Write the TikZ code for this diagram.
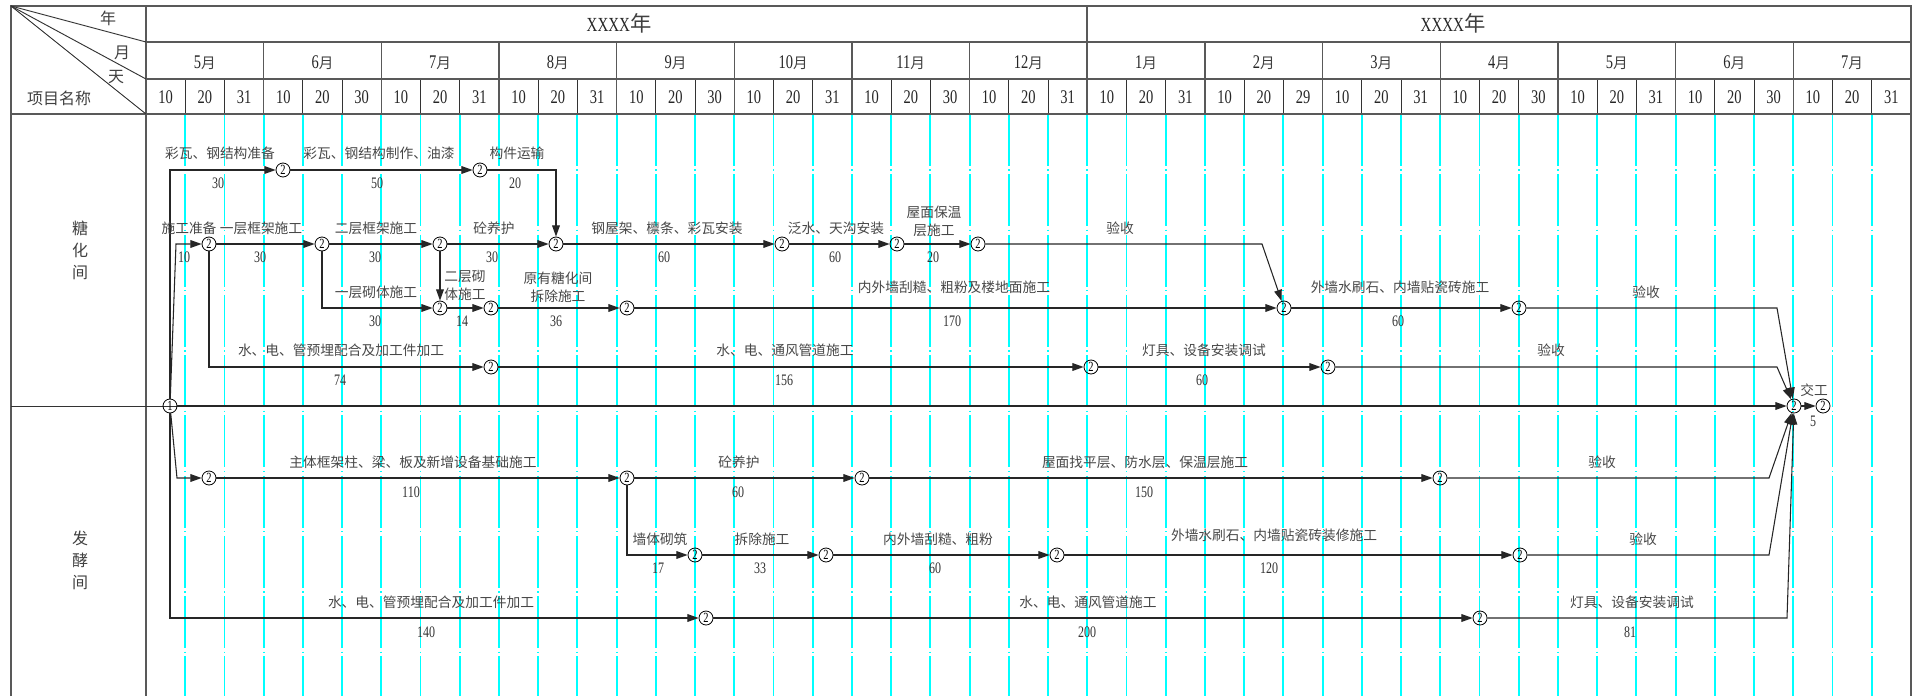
\documentclass[tikz,border=0pt]{standalone}
\usepackage{fontspec}
\setmainfont{Liberation Serif}[FakeStretch=0.75]
\newfontfamily\cjk{Noto Sans CJK SC}
\usepackage{tikz}
\usetikzlibrary{arrows.meta}
\definecolor{guidecyan}{RGB}{0,255,255}
\newcommand{\sz}[1]{\fontsize{#1}{#1}\selectfont}

\begin{document}
\begin{tikzpicture}[x=0.75pt,y=-0.75pt,
    frame/.style={black!65,line width=1.1pt},
    sub/.style={black!80,line width=0.7pt},
    guide/.style={guidecyan,line width=1.4pt,dash pattern=on 39pt off 2.6pt on 1pt off 2.6pt},
    ev/.style={circle,draw,black,line width=0.6pt,inner sep=0pt,minimum size=10.5pt,font=\sz{10.5}},
    arr/.style={-{Triangle[length=8.4pt,width=5.8pt]},black!85,line width=0.8pt},
    lab/.style={font=\cjk\fontsize{10.3}{13.5}\selectfont,text=black!72,align=center,inner sep=0pt},
    dur/.style={font=\sz{12},text=black!80,inner sep=0pt},
    hd/.style={font=\sz{14.5},text=black!85,inner sep=0pt},
    hz/.style={font=\cjk\sz{12},text=black!75}]
        \useasboundingbox (0,0) rectangle (1919,696);
        % time grid
        \foreach \j in {1,...,44}{\draw[guide] ({146+39.22*\j},114) -- ({146+39.22*\j},696);}
        \foreach \j in {1,...,44}{\draw[sub] ({146+39.22*\j},79) -- ({146+39.22*\j},114);}
        \foreach \k in {1,...,14}{\draw[frame] ({146+117.66*\k},42) -- ({146+117.66*\k},114);}
        \draw[frame] (11,696) -- (11,6) -- (1911,6) -- (1911,696);
        \draw[frame] (146,6) -- (146,696);
        \draw[frame] (146,42) -- (1911,42);
        \draw[frame] (146,79) -- (1911,79);
        \draw[frame] (11,114) -- (1911,114);
        \draw[frame] (1087,6) -- (1087,114);
        \draw[sub] (11,6) -- (146,42);
        \draw[sub] (11,6) -- (146,79);
        \draw[sub] (11,6) -- (146,114);
        \draw[sub] (11,406) -- (218,406);
        % header
        \node[hz] (nian) at (108,18) {年};
        \node[hz] (yue) at (122,53) {月};
        \node[hz] (tian) at (116,77) {天};
        \node[hz] (xmmc) at (59,98) {项目名称};
        \node[font=\sz{15},text=black!85] (yr1) at (619,23) {XXXX{\cjk\sz{16}\color{black!75}年}};
        \node[font=\sz{15},text=black!85] (yr2) at (1453,23) {XXXX{\cjk\sz{16}\color{black!75}年}};
        \foreach \m/\e [count=\i from 0] in {5/31,6/30,7/31,8/31,9/30,10/31,11/30,12/31,1/31,2/29,3/31,4/30,5/31,6/30,7/31}{
            \node[hd] (m\i) at ({146+39.22*(3*\i+1.5)},63) {\m{\cjk\sz{11}\color{black!75}月}};
            \node[hd] (da\i) at ({146+39.22*(3*\i+0.5)},97) {10};
            \node[hd] (db\i) at ({146+39.22*(3*\i+1.5)},97) {20};
            \node[hd] (dc\i) at ({146+39.22*(3*\i+2.5)},97) {\e};
        }
        \node[hz,font=\cjk\fontsize{12}{16.5}\selectfont,align=center] (thj) at (80,250) {糖\\化\\间};
        \node[hz,font=\cjk\fontsize{12}{16.5}\selectfont,align=center] (fxj) at (80,560) {发\\酵\\间};
        % events
        \node[ev] (N1) at (170,406) {1};
        \node[ev] (A1) at (283,170) {2};
        \node[ev] (A2) at (480,170) {2};
        \node[ev] (B1) at (209,244) {2};
        \node[ev] (B2) at (322,244) {2};
        \node[ev] (B3) at (440,244) {2};
        \node[ev] (B4) at (556,244) {2};
        \node[ev] (B5) at (782,244) {2};
        \node[ev] (B6) at (897,244) {2};
        \node[ev] (B7) at (978,244) {2};
        \node[ev] (C1) at (440,308) {2};
        \node[ev] (C2) at (491,308) {2};
        \node[ev] (C3) at (627,308) {2};
        \node[ev] (C4) at (1284,308) {2};
        \node[ev] (C5) at (1519,308) {2};
        \node[ev] (D1) at (491,367) {2};
        \node[ev] (D2) at (1091,367) {2};
        \node[ev] (D3) at (1328,367) {2};
        \node[ev] (F1) at (1794,406) {2};
        \node[ev] (F2) at (1823,406) {2};
        \node[ev] (G1) at (209,478) {2};
        \node[ev] (G2) at (627,478) {2};
        \node[ev] (G3) at (862,478) {2};
        \node[ev] (G4) at (1440,478) {2};
        \node[ev] (H1) at (695,555) {2};
        \node[ev] (H2) at (826,555) {2};
        \node[ev] (H3) at (1057,555) {2};
        \node[ev] (H4) at (1520,555) {2};
        \node[ev] (I1) at (706,618) {2};
        \node[ev] (I2) at (1480,618) {2};
        \coordinate (b0) at (176,244);
        \coordinate (b8) at (1262,244);
        \coordinate (c6) at (1777,308);
        \coordinate (d4) at (1777,367);
        \coordinate (g0) at (177,478);
        \coordinate (g5) at (1769,478);
        \coordinate (h5) at (1769,555);
        \coordinate (i3) at (1787,618);
        % arrows
        \draw[arr] (N1) |- (A1);
        \draw[arr] (A1) -- (A2);
        \draw[arr] (A2) -| (B4);
        \draw[arr] (N1) -- (b0) -- (B1);
        \draw[arr] (B1) -- (B2);
        \draw[arr] (B2) -- (B3);
        \draw[arr] (B3) -- (B4);
        \draw[arr] (B4) -- (B5);
        \draw[arr] (B5) -- (B6);
        \draw[arr] (B6) -- (B7);
        \draw[arr] (B7) -- (b8) -- (C4);
        \draw[arr] (B2) |- (C1);
        \draw[arr] (B3) -- (C1);
        \draw[arr] (C1) -- (C2);
        \draw[arr] (C2) -- (C3);
        \draw[arr] (C3) -- (C4);
        \draw[arr] (C4) -- (C5);
        \draw[arr] (C5) -- (c6) -- (F1);
        \draw[arr] (B1) |- (D1);
        \draw[arr] (D1) -- (D2);
        \draw[arr] (D2) -- (D3);
        \draw[arr] (D3) -- (d4) -- (F1);
        \draw[arr] (N1) -- (F1);
        \draw[arr] (F1) -- (F2);
        \draw[arr] (N1) -- (g0) -- (G1);
        \draw[arr] (G1) -- (G2);
        \draw[arr] (G2) -- (G3);
        \draw[arr] (G3) -- (G4);
        \draw[arr] (G4) -- (g5) -- (F1);
        \draw[arr] (G2) |- (H1);
        \draw[arr] (H1) -- (H2);
        \draw[arr] (H2) -- (H3);
        \draw[arr] (H3) -- (H4);
        \draw[arr] (H4) -- (h5) -- (F1);
        \draw[arr] (N1) |- (I1);
        \draw[arr] (I1) -- (I2);
        \draw[arr] (I2) -- (i3) -- (F1);
        % work names and days
        \node[lab] (tA1) at (220,153) {彩瓦、钢结构准备};
        \node[dur] (dA1) at (218,183) {30};
        \node[lab] (tA2) at (379,153) {彩瓦、钢结构制作、油漆};
        \node[dur] (dA2) at (377,183) {50};
        \node[lab] (tA3) at (517,153) {构件运输};
        \node[dur] (dA3) at (515,183) {20};
        \node[lab] (tB1) at (189,228) {施工准备};
        \node[dur] (dB1) at (184,257) {10};
        \node[lab] (tB2) at (261,228) {一层框架施工};
        \node[dur] (dB2) at (260,257) {30};
        \node[lab] (tB3) at (376,228) {二层框架施工};
        \node[dur] (dB3) at (375,257) {30};
        \node[lab] (tB4) at (494,228) {砼养护};
        \node[dur] (dB4) at (492,257) {30};
        \node[lab] (tB5) at (667,228) {钢屋架、檩条、彩瓦安装};
        \node[dur] (dB5) at (664,257) {60};
        \node[lab] (tB6) at (836,228) {泛水、天沟安装};
        \node[dur] (dB6) at (835,257) {60};
        \node[lab] (tB7) at (934,221) {屋面保温\\层施工};
        \node[dur] (dB7) at (933,257) {20};
        \node[lab] (tB8) at (1120,228) {验收};
        \node[lab] (tC1) at (376,292) {一层砌体施工};
        \node[dur] (dC1) at (375,321) {30};
        \node[lab] (tC0) at (465,285) {二层砌\\体施工};
        \node[dur] (dC2) at (462,321) {14};
        \node[lab] (tC3) at (558,287) {原有糖化间\\拆除施工};
        \node[dur] (dC3) at (556,321) {36};
        \node[lab] (tC4) at (954,287) {内外墙刮糙、粗粉及楼地面施工};
        \node[dur] (dC4) at (952,321) {170};
        \node[lab] (tC5) at (1400,287) {外墙水刷石、内墙贴瓷砖施工};
        \node[dur] (dC5) at (1398,321) {60};
        \node[lab] (tC6) at (1646,292) {验收};
        \node[lab] (tD1) at (341,350) {水、电、管预埋配合及加工件加工};
        \node[dur] (dD1) at (340,380) {74};
        \node[lab] (tD2) at (785,350) {水、电、通风管道施工};
        \node[dur] (dD2) at (784,380) {156};
        \node[lab] (tD3) at (1204,350) {灯具、设备安装调试};
        \node[dur] (dD3) at (1202,380) {60};
        \node[lab] (tD4) at (1551,350) {验收};
        \node[lab] (tF) at (1814,390) {交工};
        \node[dur] (dF) at (1813,421) {5};
        \node[lab] (tG1) at (413,462) {主体框架柱、梁、板及新增设备基础施工};
        \node[dur] (dG1) at (411,492) {110};
        \node[lab] (tG2) at (739,462) {砼养护};
        \node[dur] (dG2) at (738,492) {60};
        \node[lab] (tG3) at (1145,462) {屋面找平层、防水层、保温层施工};
        \node[dur] (dG3) at (1144,492) {150};
        \node[lab] (tG4) at (1602,462) {验收};
        \node[lab] (tH1) at (660,539) {墙体砌筑};
        \node[dur] (dH1) at (658,568) {17};
        \node[lab] (tH2) at (762,539) {拆除施工};
        \node[dur] (dH2) at (760,568) {33};
        \node[lab] (tH3) at (938,539) {内外墙刮糙、粗粉};
        \node[dur] (dH3) at (935,568) {60};
        \node[lab] (tH4) at (1274,535) {外墙水刷石、内墙贴瓷砖装修施工};
        \node[dur] (dH4) at (1269,568) {120};
        \node[lab] (tH5) at (1643,539) {验收};
        \node[lab] (tI1) at (431,602) {水、电、管预埋配合及加工件加工};
        \node[dur] (dI1) at (426,632) {140};
        \node[lab] (tI2) at (1088,602) {水、电、通风管道施工};
        \node[dur] (dI2) at (1087,632) {200};
        \node[lab] (tI3) at (1632,602) {灯具、设备安装调试};
        \node[dur] (dI3) at (1630,632) {81};
\end{tikzpicture}
\end{document}
